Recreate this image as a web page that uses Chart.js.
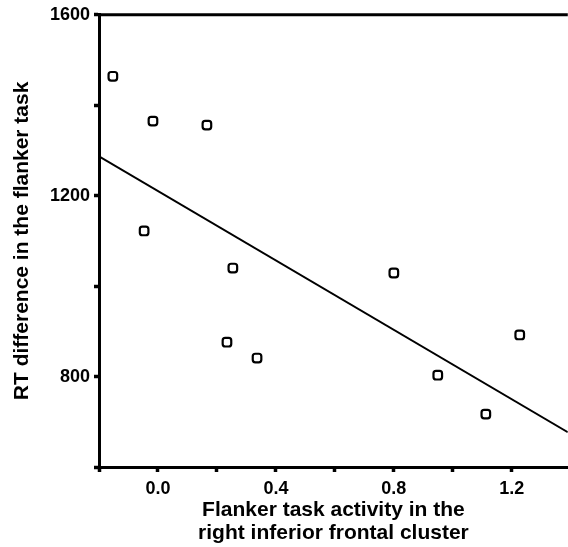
<!DOCTYPE html>
<html>
<head>
<meta charset="utf-8">
<script src="https://cdn.jsdelivr.net/npm/chart.js@4"></script>
<style>
html,body{margin:0;padding:0;background:#fff;overflow:hidden;}
#wrap{width:575px;height:547px;position:relative;}
</style>
</head>
<body>
<div id="wrap"><canvas id="c"></canvas></div>
<script>
// Data
const activityX = [-0.153, -0.017, 0.166, -0.047, 0.254, 0.234, 0.336, 0.80, 0.949, 1.112, 1.227];
const rtDiffY   = [1464, 1365, 1356, 1122, 1040, 876, 841, 1029, 803, 717, 892];
const fitX = [-0.2, 1.39];
const fitY = [1287, 677];
const xTickValues = [-0.2, 0.0, 0.2, 0.4, 0.6, 0.8, 1.0, 1.2];
const xTickLabels = ['0.0', '0.4', '0.8', '1.2'];
const yTickValues = [600, 800, 1000, 1200, 1400, 1600];
const yTickLabels = ['800', '1200', '1600'];
const xTitle = ['Flanker task activity in the', 'right inferior frontal cluster'];
const yTitle = 'RT difference in the flanker task';

const FONT = "'Liberation Sans', Arial, sans-serif";

const topBorder = {
  id: 'topBorder',
  afterDraw(chart) {
    const {ctx, chartArea} = chart;
    ctx.save();
    ctx.strokeStyle = '#000';
    ctx.lineWidth = 3;
    ctx.beginPath();
    ctx.moveTo(chartArea.left - 1, chartArea.top);
    ctx.lineTo(chartArea.right, chartArea.top);
    ctx.stroke();
    ctx.restore();
  }
};

new Chart(document.getElementById('c'), {
  type: 'scatter',
  data: {
    datasets: [
      {
        data: activityX.map((x, i) => ({x, y: rtDiffY[i]})),
        pointStyle: 'rectRounded',
        pointRadius: 5,
        pointHoverRadius: 5,
        borderColor: '#000',
        backgroundColor: '#fff',
        pointBorderWidth: 2.2
      },
      {
        type: 'line',
        data: fitX.map((x, i) => ({x, y: fitY[i]})),
        borderColor: '#000',
        borderWidth: 2,
        pointRadius: 0,
        fill: false
      }
    ]
  },
  plugins: [topBorder],
  options: {
    responsive: true,
    maintainAspectRatio: false,
    animation: false,
    events: [],
    layout: { padding: { top: 14, right: 0, left: 0, bottom: 0 } },
    plugins: { legend: { display: false }, tooltip: { enabled: false } },
    scales: {
      x: {
        type: 'linear',
        min: -0.2,
        max: 1.39,
        afterBuildTicks(scale) { scale.ticks = xTickValues.map(v => ({value: v})); },
        afterFit(scale) { scale.height = 80; },
        ticks: {
          color: '#000',
          padding: 6,
          maxRotation: 0,
          autoSkip: false,
          font: { family: FONT, size: 18, weight: 'bold' },
          callback(v) {
            const s = v.toFixed(1);
            return xTickLabels.includes(s) ? s : '';
          }
        },
        grid: { display: true, drawOnChartArea: false, drawTicks: true, tickLength: 5, tickWidth: 3.5, tickColor: '#000' },
        border: { display: true, color: '#000', width: 3 },
        title: {
          display: true,
          text: xTitle,
          color: '#000',
          font: { family: FONT, size: 21, weight: 'bold', lineHeight: 1.12 },
          padding: { top: 0, bottom: 2 }
        }
      },
      y: {
        type: 'linear',
        min: 600,
        max: 1600,
        afterBuildTicks(scale) { scale.ticks = yTickValues.map(v => ({value: v})); },
        afterFit(scale) { scale.width = 99; },
        ticks: {
          color: '#000',
          padding: 4,
          autoSkip: false,
          font: { family: FONT, size: 18, weight: 'bold' },
          callback(v) {
            const s = String(v);
            return yTickLabels.includes(s) ? s : '';
          }
        },
        grid: { display: true, drawOnChartArea: false, drawTicks: true, tickLength: 5, tickWidth: 3.5, tickColor: '#000' },
        border: { display: true, color: '#000', width: 3 },
        title: {
          display: true,
          text: yTitle,
          color: '#000',
          font: { family: FONT, size: 21, weight: 'bold', lineHeight: 1.2 },
          padding: { top: 9.5, bottom: 0 }
        }
      }
    }
  }
});
</script>
</body>
</html>
